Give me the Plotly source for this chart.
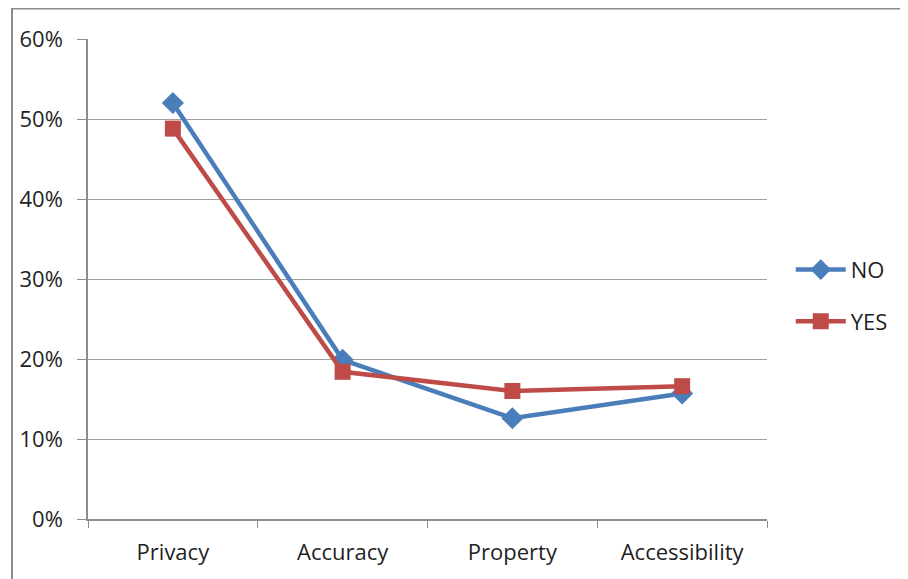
import plotly.graph_objects as go

categories = ["Privacy", "Accuracy", "Property", "Accessibility"]
no_values = [0.520, 0.199, 0.126, 0.157]
yes_values = [0.488, 0.184, 0.160, 0.166]
y_ticks = [0, 0.1, 0.2, 0.3, 0.4, 0.5, 0.6]
y_tick_labels = ["0%", "10%", "20%", "30%", "40%", "50%", "60%"]

FONT = "Open Sans"
FS = 22

fig = go.Figure()
fig.add_trace(go.Scatter(
    x=categories, y=no_values, name="NO", mode="lines+markers",
    line=dict(color="#4A7EBB", width=4.5),
    marker=dict(symbol="diamond", size=17, color="#4A7EBB"),
    legendgroup="a",
))
fig.add_trace(go.Scatter(
    x=categories, y=yes_values, name="YES", mode="lines+markers",
    line=dict(color="#BE4B48", width=4.5),
    marker=dict(symbol="square", size=16, color="#BE4B48"),
    legendgroup="b",
))

L, T, PW, PH = 80, 31, 679, 480
fig.update_layout(
    width=908, height=579,
    margin=dict(l=L, r=908 - L - PW, t=T, b=579 - T - PH),
    paper_bgcolor="white", plot_bgcolor="white",
    font=dict(family=FONT, size=FS, color="#1F1F1F"),
    showlegend=True,
    legend=dict(x=1.035, y=0.465, xanchor="left", yanchor="middle",
                tracegroupgap=20, font=dict(size=FS, family=FONT),
                itemwidth=50, bgcolor="rgba(0,0,0,0)"),
    xaxis=dict(
        type="category", range=[-0.5, 3.5],
        showline=True, linecolor="#8C8C8C", linewidth=1.5,
        ticks="outside", tickson="boundaries", ticklen=7, tickcolor="#8C8C8C",
        showgrid=False, tickfont=dict(size=FS, family=FONT),
        ticklabelstandoff=13,
    ),
    yaxis=dict(
        range=[0, 0.6], tickvals=y_ticks, ticktext=y_tick_labels,
        showline=True, linecolor="#8C8C8C", linewidth=1.5,
        ticks="outside", ticklen=9, tickcolor="#8C8C8C",
        showgrid=True, gridcolor="#A0A0A0", gridwidth=1.3,
        zeroline=False, tickfont=dict(size=FS, family=FONT),
        ticklabelstandoff=10,
    ),
    shapes=[
        dict(type="line", xref="paper", yref="paper",
             x0=-(L - 4) / PW, x1=1.3, y0=(PH + T - 0.5) / PH, y1=(PH + T - 0.5) / PH,
             line=dict(color="#8C8C8C", width=2)),
        dict(type="line", xref="paper", yref="paper",
             x0=-(L - 4) / PW, x1=-(L - 4) / PW, y0=(PH + T) / PH, y1=-0.2,
             line=dict(color="#8C8C8C", width=2)),
    ],
)

fig.write_html("out.html")
